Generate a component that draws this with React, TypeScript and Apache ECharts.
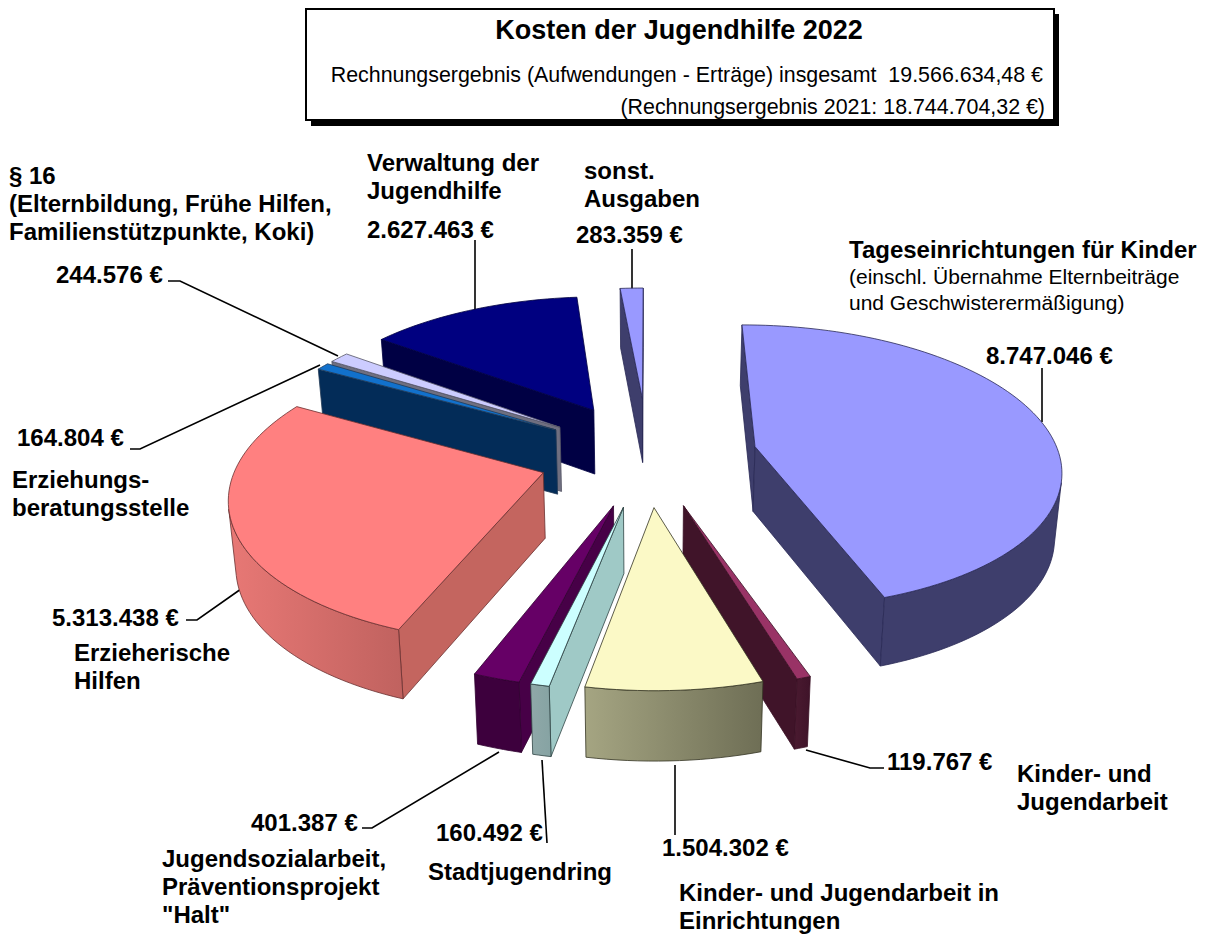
import React, { useEffect, useRef } from "react";
import * as echarts from "echarts";

const categories = [
  "Tageseinrichtungen für Kinder",
  "Kinder- und Jugendarbeit",
  "Kinder- und Jugendarbeit in Einrichtungen",
  "Stadtjugendring",
  "Jugendsozialarbeit, Präventionsprojekt Halt",
  "Erzieherische Hilfen",
  "Erziehungsberatungsstelle",
  "§ 16",
  "Verwaltung der Jugendhilfe",
  "sonst. Ausgaben",
];
const values = [8747046, 119767, 1504302, 160492, 401387, 5313438, 164804, 244576, 2627463, 283359];
const explode = [0.36, 0.36, 0.355, 0.36, 0.36, 0.36, 0.36, 0.36, 0.38, 0.42];
const topColors = ["#9999FF", "#993366", "#FBF9C6", "#CCFFFF", "#660066", "#FF8080", "#1271CC", "#CCCCFF", "#000080", "#9999FF"];
const wallColors = ["#3E3E6C", "#401429", "#9FC9C6", "#9FC9C6", "#470047", "#C4655F", "#032C58", "#6F6F80", "#000044", "#3E3E6C"];
const outerColors = [
  ["#3E3E6C", "#3E3E6C"], ["#4A1A30", "#3F1329"], ["#A5A582", "#6E6E55"], ["#8FA8A8", "#86A3A3"], ["#3D003D", "#3D003D"],
  ["#E87875", "#C0625F"], ["#032C58", "#032C58"], ["#6F6F80", "#6F6F80"], ["#000044", "#000044"], ["#3E3E6C", "#3E3E6C"],
];
const edgeColors = ["#2A2A55", "#3A1025", "#333322", "#2F4444", "#300030", "#6A3030", "#223A55", "#555566", "#000040", "#2A2A55"];

const B = 24;
const captions: [string, number, number, number, boolean][] = [
  ["Verwaltung der", 367, 162, B, true],
  ["Jugendhilfe", 367, 190, B, true],
  ["2.627.463 €", 367, 229, B, true],
  ["sonst.", 584, 170, B, true],
  ["Ausgaben", 584, 198, B, true],
  ["283.359 €", 576, 234, B, true],
  ["§ 16", 9, 175, B, true],
  ["(Elternbildung, Frühe Hilfen,", 9, 203, B, true],
  ["Familienstützpunkte, Koki)", 9, 231, B, true],
  ["244.576 €", 56, 274, B, true],
  ["Tageseinrichtungen für Kinder", 849, 249, B, true],
  ["(einschl. Übernahme Elternbeiträge", 849, 276, 21, false],
  ["und Geschwisterermäßigung)", 849, 302, 21, false],
  ["8.747.046 €", 986, 355, B, true],
  ["164.804 €", 17, 437, B, true],
  ["Erziehungs-", 12, 479, B, true],
  ["beratungsstelle", 12, 507, B, true],
  ["5.313.438 €", 52, 617, B, true],
  ["Erzieherische", 74, 652, B, true],
  ["Hilfen", 74, 680, B, true],
  ["119.767 €", 887, 761, B, true],
  ["Kinder- und", 1017, 773, B, true],
  ["Jugendarbeit", 1017, 801, B, true],
  ["1.504.302 €", 662, 847, B, true],
  ["Kinder- und Jugendarbeit in", 679, 892, B, true],
  ["Einrichtungen", 679, 920, B, true],
  ["160.492 €", 436, 832, B, true],
  ["Stadtjugendring", 428, 871, B, true],
  ["401.387 €", 251, 822, B, true],
  ["Jugendsozialarbeit,", 162, 858, B, true],
  ["Präventionsprojekt", 162, 886, B, true],
  ['"Halt"', 162, 914, B, true],
];

const leaders: number[][][] = [
  [[475, 240], [475, 310]],
  [[632, 249], [632, 293]],
  [[168, 281], [180, 281], [338, 356]],
  [[1042, 368], [1042, 422]],
  [[130, 449], [140, 449], [320, 365]],
  [[186, 620], [197, 620], [241, 589]],
  [[884, 768], [870, 768], [806, 750]],
  [[675, 765], [675, 835]],
  [[542, 760], [547, 843]],
  [[362, 828], [372, 828], [499, 752]],
];

const FONT = "'Liberation Sans', Arial, sans-serif";
const CX = 648, CY = 455, RX = 304, RY = 141, PERSP = 0.14;

const total = values.reduce((a, b) => a + b, 0);
const starts: number[] = [];
values.reduce((acc, v, i) => {
  starts[i] = (acc / total) * Math.PI * 2;
  return acc + v;
}, 0);

function top(u: number, v: number): [number, number] {
  const w = 1 / (1 - PERSP * v);
  return [CX + RX * u * w, CY + RY * v * w];
}
function bottom(u: number, v: number): [number, number] {
  const p = top(u, v);
  return [CX + (p[0] - CX) * 0.982, p[1] + 65 + 4 * v];
}
const midDepth = (i: number) => {
  const a = starts[i] + (values[i] / total) * Math.PI;
  return -Math.cos(a);
};
const order = values.map((_, i) => i).sort((a, b) => midDepth(a) - midDepth(b));

function shoelace(pts: number[][]) {
  let s = 0;
  for (let i = 0; i < pts.length; i++) {
    const a = pts[i], b = pts[(i + 1) % pts.length];
    s += a[0] * b[1] - b[0] * a[1];
  }
  return s;
}

function renderSlice(params: any, api: any) {
  const i = api.value(1) as number;
  const sweep = ((api.value(0) as number) / total) * Math.PI * 2;
  const a0 = starts[i];
  const mid = a0 + sweep / 2;
  const ox = explode[i] * Math.sin(mid);
  const oy = -explode[i] * Math.cos(mid);
  const steps = Math.max(3, Math.ceil(sweep / 0.03));
  const plane: [number, number][] = [];
  for (let k = 0; k <= steps; k++) {
    const a = a0 + (sweep * k) / steps;
    plane.push([ox + Math.sin(a), oy - Math.cos(a)]);
  }
  const apex: [number, number] = [ox, oy];
  const children: any[] = [];
  const edge = { stroke: edgeColors[i], lineWidth: 0.8, lineJoin: "round" };
  const quad = (p: [number, number], q: [number, number]) => [top(p[0], p[1]), top(q[0], q[1]), bottom(q[0], q[1]), bottom(p[0], p[1])];
  const q1 = quad(apex, plane[0]);
  const q2 = quad(plane[steps], apex);
  if (shoelace(q1) < 0) children.push({ type: "polygon", shape: { points: q1 }, style: { fill: wallColors[i], ...edge } });
  if (shoelace(q2) < 0) children.push({ type: "polygon", shape: { points: q2 }, style: { fill: wallColors[i], ...edge } });
  const vis: number[] = [];
  for (let k = 0; k < steps; k++) {
    if (shoelace(quad(plane[k], plane[k + 1])) < 0) vis.push(k);
  }
  if (vis.length) {
    const first = vis[0], last = vis[vis.length - 1] + 1;
    const pts: number[][] = [];
    for (let k = first; k <= last; k++) pts.push(top(plane[k][0], plane[k][1]));
    for (let k = last; k >= first; k--) pts.push(bottom(plane[k][0], plane[k][1]));
    children.push({
      type: "polygon",
      shape: { points: pts },
      style: {
        fill: new echarts.graphic.LinearGradient(0, 0, 1, 0, [
          { offset: 0, color: outerColors[i][0] },
          { offset: 1, color: outerColors[i][1] },
        ]),
        ...edge,
      },
    });
  }
  const face = [top(apex[0], apex[1]), ...plane.map((p) => top(p[0], p[1]))];
  children.push({ type: "polygon", shape: { points: face }, style: { fill: topColors[i], ...edge } });
  return { type: "group", children };
}

export default function App() {
  const ref = useRef<HTMLDivElement>(null);
  useEffect(() => {
    const chart = echarts.init(ref.current!, null, { renderer: "svg" });
    const graphic: any[] = [
      { type: "rect", z: 1, shape: { x: 311, y: 14, width: 748, height: 112 }, style: { fill: "#000" } },
      { type: "rect", z: 1, shape: { x: 306, y: 9, width: 748, height: 111 }, style: { fill: "#fff", stroke: "#000", lineWidth: 2 } },
      { type: "text", z: 3, x: 679, y: 30, style: { text: "Kosten der Jugendhilfe 2022", fontFamily: FONT, fontSize: 27, fontWeight: "bold", fill: "#000", align: "center", verticalAlign: "middle" } },
      { type: "text", z: 3, x: 1043, y: 75, style: { text: "Rechnungsergebnis (Aufwendungen - Erträge) insgesamt  19.566.634,48 €", fontFamily: FONT, fontSize: 21.4, fill: "#000", align: "right", verticalAlign: "middle" } },
      { type: "text", z: 3, x: 1045, y: 107, style: { text: "(Rechnungsergebnis 2021: 18.744.704,32 €)", fontFamily: FONT, fontSize: 21.4, fill: "#000", align: "right", verticalAlign: "middle" } },
      ...leaders.map((points) => ({
        type: "polyline", z: 1, shape: { points }, style: { stroke: "#000", lineWidth: 1.6, fill: "none" },
      })),
      ...captions.map(([text, x, y, size, bold]) => ({
        type: "text", z: 3, x, y,
        style: { text, fontFamily: FONT, fontSize: size, fontWeight: bold ? "bold" : "normal", fill: "#000", align: "left", verticalAlign: "middle" },
      })),
    ];
    chart.setOption({
      animation: false,
      backgroundColor: "#fff",
      graphic,
      series: [
        {
          type: "custom",
          coordinateSystem: "none",
          silent: true,
          renderItem: renderSlice,
          data: order.map((i) => ({ name: categories[i], value: [values[i], i] })),
        },
      ],
    });
    return () => chart.dispose();
  }, []);
  return <div ref={ref} style={{ position: "absolute", left: 0, top: 0, width: 1209, height: 934 }} />;
}
